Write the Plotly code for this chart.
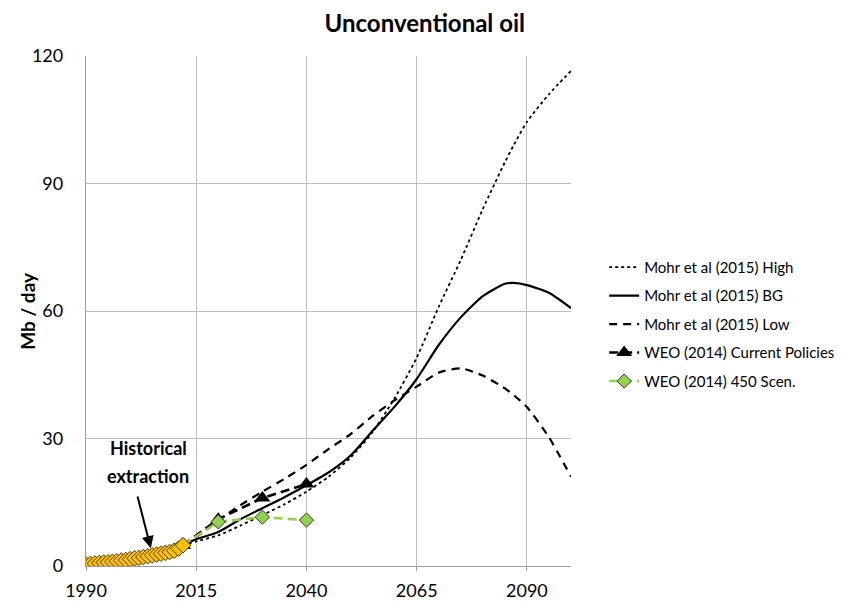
import plotly.graph_objects as go

# ---- data ----
hist_years = list(range(1990, 2013))
hist_vals = [0.4, 0.5, 0.6, 0.7, 0.8, 0.9, 1.0, 1.1, 1.3, 1.4, 1.6, 1.8,
             1.9, 2.1, 2.3, 2.5, 2.7, 2.9, 3.1, 3.3, 3.6, 4.1, 4.9]

mohr_years = [2012, 2015, 2020, 2025, 2030, 2035, 2040, 2045, 2050, 2055, 2060,
              2065, 2070, 2075, 2080, 2085, 2087, 2090, 2095, 2100]
mohr_high = [4.9, 5.8, 7.2, 9.5, 12.0, 14.5, 17.5, 21.0, 25.5, 31.5, 39.5,
             49.0, 61.0, 72.0, 84.0, 95.0, 99.0, 104.5, 111.0, 116.5]
mohr_bg = [4.9, 6.3, 8.0, 11.0, 13.6, 16.2, 19.0, 22.0, 26.0, 31.8, 37.5,
           44.0, 52.0, 58.5, 63.5, 66.4, 66.6, 66.1, 64.3, 60.7]
mohr_low = [4.9, 6.8, 10.8, 14.3, 17.5, 20.5, 23.8, 27.5, 31.0, 35.3, 39.0,
            42.2, 45.5, 46.5, 44.8, 41.8, 40.2, 37.4, 30.3, 21.0]

weo_years = [2012, 2020, 2030, 2040]
weo_cp = [4.9, 11.0, 16.0, 19.3]
weo_450 = [4.9, 10.4, 11.5, 10.8]

x_ticks = [1990, 2015, 2040, 2065, 2090]
y_ticks = [0, 30, 60, 90, 120]

font_family = "Lato, Open Sans, sans-serif"

fig = go.Figure()

fig.add_trace(go.Scatter(x=mohr_years, y=mohr_high, mode="lines", name="Mohr et al (2015) High",
                         legendgroup="a",
                         line=dict(color="black", width=1.8, dash="dot", shape="spline", smoothing=0.6)))
fig.add_trace(go.Scatter(x=mohr_years, y=mohr_bg, mode="lines", name="Mohr et al (2015) BG",
                         legendgroup="b",
                         line=dict(color="black", width=2.2, shape="spline", smoothing=0.6)))
fig.add_trace(go.Scatter(x=mohr_years, y=mohr_low, mode="lines", name="Mohr et al (2015) Low",
                         legendgroup="c",
                         line=dict(color="black", width=2.2, dash="8px,6px", shape="spline", smoothing=0.6)))
fig.add_trace(go.Scatter(x=weo_years, y=weo_cp, mode="lines+markers", name="WEO (2014) Current Policies",
                         legendgroup="d",
                         line=dict(color="black", width=2.6, dash="9px,5px"),
                         marker=dict(symbol="triangle-up", size=14, color="black")))
fig.add_trace(go.Scatter(x=weo_years, y=weo_450, mode="lines+markers", name="WEO (2014) 450 Scen.",
                         legendgroup="e",
                         line=dict(color="#92D050", width=2.6, dash="9px,5px"),
                         marker=dict(symbol="diamond", size=11, color="#92D050",
                                     line=dict(color="#3a3a3a", width=1))))
fig.add_trace(go.Scatter(x=hist_years, y=hist_vals, mode="markers", name="Historical",
                         showlegend=False,
                         marker=dict(symbol="diamond", size=12, color="#FFC000",
                                     line=dict(color="#4a3a00", width=1))))

fig.add_annotation(x=2004.7, y=4.2, ax=2001.6, ay=16.7, axref="x", ayref="y",
                   xref="x", yref="y", text="", showarrow=True,
                   arrowhead=2, arrowsize=1.2, arrowwidth=2, arrowcolor="black")
fig.add_annotation(x=2004.1, y=27.8, xref="x", yref="y", text="<b>Historical</b>",
                   showarrow=False, font=dict(family=font_family, size=18, color="black"))
fig.add_annotation(x=2004.1, y=21.2, xref="x", yref="y", text="<b>extraction</b>",
                   showarrow=False, font=dict(family=font_family, size=18, color="black"))
fig.add_annotation(x=-0.122, y=0.5, xref="paper", yref="paper", text="<b>Mb / day</b>",
                   textangle=-90, showarrow=False, xanchor="center", yanchor="middle",
                   font=dict(family=font_family, size=19, color="black"))

fig.update_layout(
    width=842, height=596,
    margin=dict(l=78, r=279, t=48, b=38, autoexpand=False),
    paper_bgcolor="white", plot_bgcolor="white",
    font=dict(family=font_family, color="black"),
    title=dict(text="<b>Unconventional oil</b>", x=0.495, xref="container", xanchor="center",
               y=0.973, yref="container", yanchor="middle",
               font=dict(family=font_family, size=24, color="black")),
    legend=dict(x=1.0684, y=0.618, xanchor="left", yanchor="top",
                font=dict(family=font_family, size=15, color="black"),
                tracegroupgap=6, itemwidth=30, bgcolor="rgba(0,0,0,0)"),
    showlegend=True,
)

fig.update_xaxes(range=[1990, 2100], tickvals=x_ticks, ticktext=[str(v) for v in x_ticks],
                 showgrid=True, gridcolor="#BEBEBE", gridwidth=1.3,
                 showline=True, linecolor="#9a9a9a", linewidth=1.3,
                 ticks="outside", ticklen=4, tickcolor="#9a9a9a", automargin=False,
                 ticklabelstandoff=4,
                 zeroline=False, tickfont=dict(size=18, family=font_family, color="black"))
fig.update_yaxes(range=[0, 120], tickvals=y_ticks, ticktext=[str(v) for v in y_ticks],
                 showgrid=True, gridcolor="#BEBEBE", gridwidth=1.3,
                 showline=True, linecolor="#9a9a9a", linewidth=1.3, automargin=False,
                 zeroline=False, ticks="", ticklabelstandoff=18,
                 tickfont=dict(size=18, family=font_family, color="black"))

fig.write_html("out.html")
